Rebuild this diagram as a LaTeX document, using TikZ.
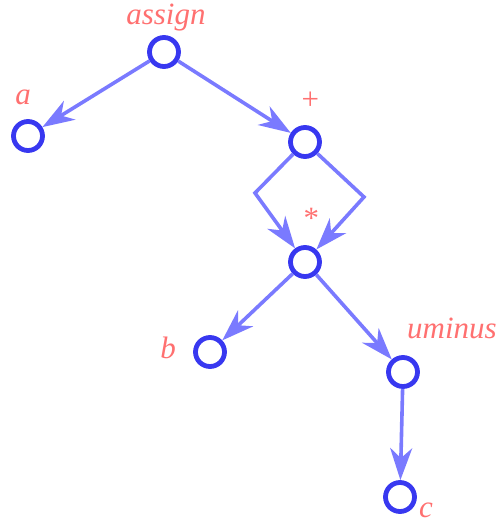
\documentclass[tikz,border=0pt]{standalone}
\usepackage{fontspec}
\setmainfont{Liberation Serif}
\usetikzlibrary{arrows.meta}
\definecolor{nodeblue}{HTML}{3838F0}
\definecolor{edgeblue}{HTML}{7A7AFF}
\definecolor{labred}{HTML}{FF7070}
\tikzset{
  tnode/.style={circle, draw=nodeblue, line width=2.4pt, minimum size=14.5pt, inner sep=0pt},
  tedge/.style={draw=edgeblue, line width=1.8pt, line join=miter,
    -{Stealth[length=16pt, width=11pt, inset=5pt, fill=edgeblue]}},
  tlab/.style={text=labred, font=\fontsize{15.5}{17}\selectfont\itshape, inner sep=0pt}
}
\begin{document}
\begin{tikzpicture}[x=0.5pt, y=-0.5pt]
\useasboundingbox (0,0) rectangle (499,521);
\node[tnode] (assign) at (164,52) {};
\node[tnode] (a) at (28,136) {};
\node[tnode] (plus) at (305,142) {};
\node[tnode] (star) at (305,262) {};
\node[tnode] (b) at (210,352) {};
\node[tnode] (uminus) at (403,372) {};
\node[tnode] (c) at (400,497) {};
\coordinate (pl) at (255,193);
\coordinate (pr) at (364,197);
\node[tlab] (lassign) at (166,18) {assign};
\node[tlab] (la) at (23,97) {a};
\node[tlab] (lplus) at (310,101) {+};
\node[tlab] (lstar) at (310,218) {*};
\node[tlab] (lb) at (168,348) {b};
\node[tlab] (luminus) at (452,328) {uminus};
\node[tlab] (lc) at (426,510) {c};
\draw[tedge] (assign) -- (a);
\draw[tedge] (assign) -- (plus);
\draw[tedge] (plus) -- (pl) -- (star);
\draw[tedge] (plus) -- (pr) -- (star);
\draw[tedge] (star) -- (b);
\draw[tedge] (star) -- (uminus);
\draw[tedge] (uminus) -- (c);
\end{tikzpicture}
\end{document}
